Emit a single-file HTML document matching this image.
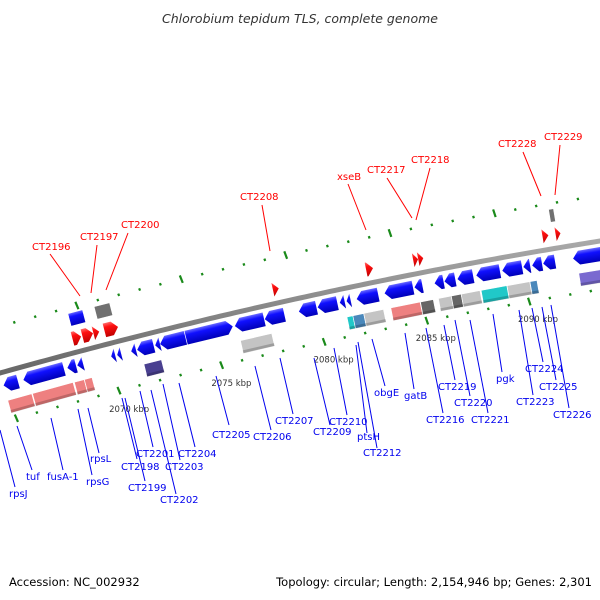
<!DOCTYPE html>
<html><head><meta charset="utf-8"><title>Chlorobium tepidum TLS genome map</title>
<style>
html,body{margin:0;padding:0;background:#fff;}
svg{display:block;}
.lbl{font-family:"DejaVu Sans","Liberation Sans",sans-serif;font-size:10px;}
</style></head>
<body>
<svg id="map" width="600" height="600" viewBox="0 0 600 600">
<defs>
<linearGradient id="gBlue" x1="0" y1="0" x2="0" y2="1"><stop offset="0" stop-color="#6a6aff"/><stop offset="0.3" stop-color="#1010ff"/><stop offset="1" stop-color="#0000b8"/></linearGradient>
<linearGradient id="gRed" x1="0" y1="0" x2="0" y2="1"><stop offset="0" stop-color="#ff6a6a"/><stop offset="0.3" stop-color="#ff1010"/><stop offset="1" stop-color="#c00000"/></linearGradient>
<linearGradient id="gBack" x1="0" y1="0" x2="0" y2="1"><stop offset="0" stop-color="#aaa"/><stop offset="1" stop-color="#666"/></linearGradient>
</defs>
<text x="300" y="23" text-anchor="middle" font-family="DejaVu Sans, Liberation Sans, sans-serif" font-size="12.5" font-style="italic" fill="#333">Chlorobium tepidum TLS, complete genome</text>
<g id="ticks"></g>
<path id="backbone" fill="none" stroke="url(#gBack)" stroke-width="5"/>
<g id="genes"></g>
<g id="labels"></g>
<text x="9" y="586" font-family="DejaVu Sans, Liberation Sans, sans-serif" font-size="11.5" fill="#000">Accession: NC_002932</text>
<text x="592" y="586" text-anchor="end" font-family="DejaVu Sans, Liberation Sans, sans-serif" font-size="11.5" fill="#000">Topology: circular; Length: 2,154,946 bp; Genes: 2,301</text>
</svg>
<script>
// ---- data (kbp) ----
const tickKbp = [2064,2065,2066,2067,2068,2069,2070,2071,2072,2073,2074,2075,2076,2077,2078,2079,2080,2081,2082,2083,2084,2085,2086,2087,2088,2089,2090,2091,2092,2093,2094];
const majorLabels = [2070,2075,2080,2085,2090];
const geneStart = [2064.69,2065.65,2067.78,2068.26,2069.90,2070.19,2070.87,2071.16,2072.03,2072.27,2073.53,2075.89,2077.34,2078.99,2079.90,2080.97,2081.30,2081.79,2083.14,2084.59,2085.56,2086.04,2086.67,2087.58,2088.84,2089.86,2090.29,2090.82,2092.27,
 2064.69,2065.89,2067.92,2068.41,2071.30,2075.99,2081.16,2081.45,2081.98,2083.29,2084.73,2085.60,2086.23,2086.71,2087.68,2088.94,2090.05,2092.42,
 2068.36,2068.84,2069.37,2069.90,2078.02,2082.51,2084.78,2085.02,2091.01,2091.64,
 2068.45,2069.71,2091.50];
const geneEnd = [2065.41,2067.68,2068.21,2068.55,2070.10,2070.39,2071.11,2071.98,2072.27,2073.53,2075.85,2077.34,2078.31,2079.86,2080.87,2081.21,2081.50,2082.85,2084.54,2084.98,2086.00,2086.57,2087.44,2088.74,2089.81,2090.19,2090.77,2091.40,2093.80,
 2065.89,2067.92,2068.41,2068.79,2072.17,2077.54,2081.45,2081.98,2082.95,2084.73,2085.36,2086.23,2086.71,2087.63,2088.94,2090.05,2090.39,2093.80,
 2068.79,2069.37,2069.66,2070.58,2078.31,2082.85,2085.02,2085.27,2091.30,2091.88,
 2069.18,2070.48,2091.74];
const geneRow = [1,1,1,1,1,1,1,1,1,1,1,1,1,1,1,1,1,1,1,1,1,1,1,1,1,1,1,1,1,
 2,2,2,2,2,2,2,2,2,2,2,2,2,2,2,2,2,2,
 -1,-1,-1,-1,-1,-1,-1,-1,-1,-1,
 -2,-2,-2];
const geneDir = [-1,-1,-1,-1,-1,-1,-1,-1,-1,-1,1,-1,-1,-1,-1,-1,-1,-1,-1,-1,-1,-1,-1,-1,-1,-1,-1,-1,-1,
 0,0,0,0,0,0,0,0,0,0,0,0,0,0,0,0,0,0,
 1,1,1,1,1,1,1,1,1,1,
 0,0,0];
const geneColor = ['b','b','b','b','b','b','b','b','b','b','b','b','b','b','b','b','b','b','b','b','b','b','b','b','b','b','b','b','b',
 '#ee8080','#ee8080','#ee8080','#ee8080','#4a4090','#c4c4c4','#20c8c8','#4a88bb','#c4c4c4','#ee8080','#666','#c4c4c4','#666','#c4c4c4','#20c8c8','#c4c4c4','#4a88bb','#7a6ad0',
 'r','r','r','r','r','r','r','r','r','r',
 'b','#707070','#707070'];
const labelText = ['rpsJ','tuf','fusA-1','rpsG','rpsL','CT2198','CT2199','CT2201','CT2202','CT2203','CT2204','CT2205','CT2206','CT2207','CT2209','CT2210','ptsH','CT2212','obgE','gatB','CT2216','CT2219','CT2220','CT2221','pgk','CT2223','CT2224','CT2225','CT2226',
 'CT2196','CT2197','CT2200','CT2208','xseB','CT2217','CT2218','CT2228','CT2229'];
const labelPos = [[9,497,0,430,15,487],[26,480,17,426,32,470],[47,480,51,418,63,470],[86,485,78,409,92,475],[90,462,88,408,99,453],[121,470,122,398,137,459],[128,491,125,398,145,481],[136,457,140,391,153,447],[160,503,151,390,176,494],[165,470,163,384,180,460],[178,457,179,383,195,447],[212,438,216,376,229,425],[253,440,255,366,271,430],[275,424,280,358,293,414],[313,435,314,358,330,425],[329,425,334,348,347,415],[357,440,356,345,367,433],[363,456,358,342,377,448],[374,396,372,339,385,386],[404,399,405,333,414,389],[426,423,426,328,443,413],[438,390,444,325,455,380],[454,406,455,320,470,396],[471,423,470,320,488,413],[496,382,493,314,502,372],[516,405,519,310,533,395],[525,372,532,308,543,362],[539,390,542,307,556,380],[553,418,551,305,569,408],
 [32,250,50,254,80,296],[80,240,97,245,91,293],[121,228,128,233,106,290],[240,200,262,205,270,251],[337,180,348,184,366,230],[367,173,387,178,412,218],[411,163,430,168,416,220],[498,147,523,152,541,196],[544,140,560,145,555,195]];
const labelColor = Array(29).fill('#0000ee').concat(Array(9).fill('#ff0000'));

const SVGNS='http://www.w3.org/2000/svg';
function xOf(kbp){return 110+(kbp-2070)*20.7;}
function yBase(x){return 373-0.28*x+0.0001*x*x;}
function slope(x){return -0.28+0.0002*x;}
function pt(kbp,off){const x=xOf(kbp);const y=yBase(x);const a=Math.atan(slope(x));return [x-Math.sin(a)*off,y+Math.cos(a)*off,a*180/Math.PI];}
function mk(tag,attrs,parent){const e=document.createElementNS(SVGNS,tag);for(const k in attrs)e.setAttribute(k,attrs[k]);parent.appendChild(e);return e;}

let d='';for(let x=-10;x<=610;x+=5){d+=(x===-10?'M':'L')+x+' '+yBase(x).toFixed(2)+' ';}
document.getElementById('backbone').setAttribute('d',d);

const tg=document.getElementById('ticks');
tickKbp.forEach(k=>{
  const major=(k%5===0);
  [[k-1.05,-45],[k-0.15,48]].forEach(([kk,off])=>{
    const p=pt(kk,off);
    const h=major?8:2.5;
    const r=mk('rect',{x:-1,y:-h/2,width:2.2,height:h,fill:'#1a8a1a',transform:`translate(${p[0].toFixed(1)},${p[1].toFixed(1)}) rotate(${(p[2]-8).toFixed(1)})`},tg);
    
    
  });
});
majorLabels.forEach(k=>{
  const p=pt(k-0.85,66);
  const t=mk('text',{x:p[0].toFixed(1),y:p[1].toFixed(1),'font-family':'DejaVu Sans, Liberation Sans, sans-serif','font-size':'8.5',fill:'#333'},tg);
  t.textContent=k+' kbp';
  
  
});

const gg=document.getElementById('genes');
const rowOff={1:13,2:35,'-1':-14,'-2':-33};
geneStart.forEach((s,i)=>{
  const row=geneRow[i];const off=rowOff[row];
  const p=pt(s,off);
  const L=(geneEnd[i]-s)*20.7;
  const h=(row===1||row===-1)?14:13;
  const c=geneColor[i];
  const fill=c==='b'?'url(#gBlue)':c==='r'?'url(#gRed)':c;
  let shape;
  const dir=geneDir[i];const hd=Math.min(6,L);
  if(dir===-1){
    shape=mk('polygon',{points:`0,0 ${hd},${-h/2} ${L},${-h/2} ${L},${h/2} ${hd},${h/2}`},gg);
  }else if(dir===1){
    shape=mk('polygon',{points:`0,${-h/2} ${L-hd},${-h/2} ${L},0 ${L-hd},${h/2} 0,${h/2}`},gg);
  }else{
    shape=mk('rect',{x:0,y:-h/2,width:L,height:h,stroke:'#fff','stroke-width':'0.6'},gg);
  }
  shape.setAttribute('fill',fill);
  shape.setAttribute('transform',`translate(${p[0].toFixed(1)},${p[1].toFixed(1)}) rotate(${p[2].toFixed(2)})`);
  
  
  if(dir===0&&row!==-2){
    const sh=mk('rect',{x:0,y:h/2-3,width:L,height:3,fill:'#000','fill-opacity':'0.2',transform:shape.getAttribute('transform')},gg);
    
    
  }
});

const lg=document.getElementById('labels');
labelText.forEach((txt,i)=>{
  const [tx,ty,x1,y1,x2,y2]=labelPos[i];
  const ln=mk('line',{x1:x1,y1:y1,x2:x2,y2:y2,stroke:labelColor[i],'stroke-width':'1'},lg);
  
  
  const t=mk('text',{x:tx,y:ty,class:'lbl',fill:labelColor[i]},lg);
  t.textContent=txt;
  
  
});
</script>
</body></html>
